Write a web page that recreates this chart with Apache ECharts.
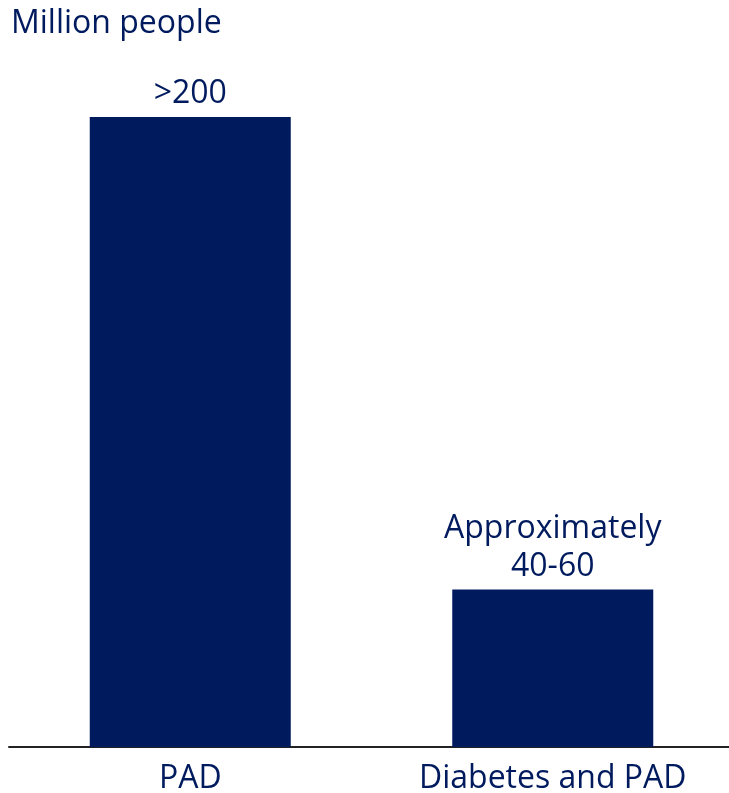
<!DOCTYPE html>
<html>
<head>
<meta charset="utf-8">
<script src="https://cdn.jsdelivr.net/npm/echarts@6/dist/echarts.min.js"></script>
<style>
  html, body { margin: 0; padding: 0; background: #fff; }
  #chart { width: 729px; height: 793px; }
</style>
</head>
<body>
<div id="chart"></div>
<script>
// categories and values
var categories = ['PAD', 'Diabetes and PAD'];
var values = [200, 50];
var valueLabels = ['>200', 'Approximately\n40-60'];

var navy = '#001a5e';
var font = '"Open Sans", "Noto Sans", sans-serif';

var myChart = echarts.init(document.getElementById('chart'));
var option = {
    animation: false,
    title: {
        text: 'Million people',
        left: 6,
        top: 3,
        textStyle: { color: navy, fontFamily: font, fontSize: 32, fontWeight: 'normal' }
    },
    grid: { left: 9, right: -5, top: 117, bottom: 46, containLabel: false, outerBoundsMode: 'none' },
    xAxis: {
        type: 'category',
        data: categories,
        axisLine: { lineStyle: { color: '#222', width: 2 } },
        axisTick: { show: false },
        axisLabel: { color: navy, fontFamily: font, fontSize: 32, margin: 16 }
    },
    yAxis: {
        type: 'value',
        min: 0,
        max: 200,
        show: false,
        splitLine: { show: false }
    },
    series: [{
        type: 'bar',
        data: values,
        barWidth: 201,
        itemStyle: { color: navy },
        label: {
            show: true,
            position: 'top',
            distance: 4,
            color: navy,
            fontFamily: font,
            fontSize: 32,
            lineHeight: 38,
            formatter: function (p) { return valueLabels[p.dataIndex]; }
        }
    }]
};
myChart.setOption(option);
</script>
</body>
</html>
